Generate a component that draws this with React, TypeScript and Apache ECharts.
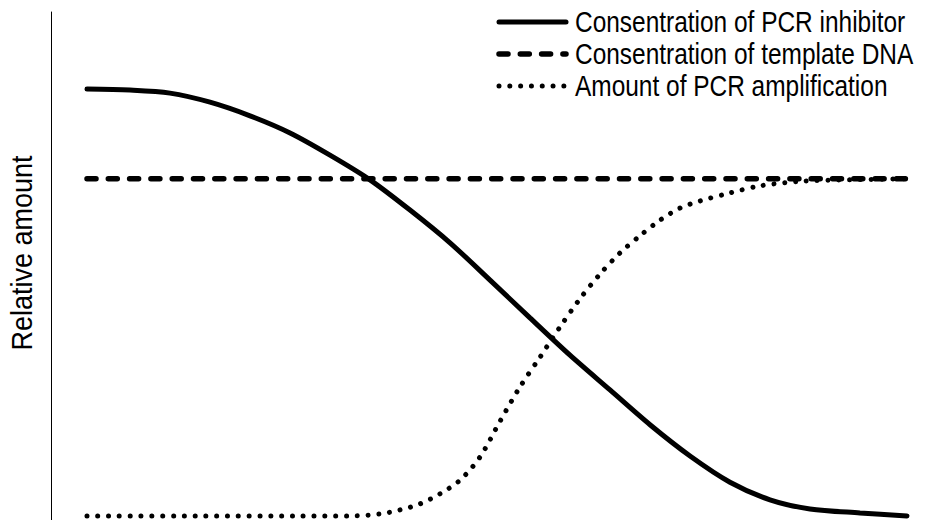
import React, { useEffect, useRef } from "react";
import * as echarts from "echarts";

const seriesNames = [
  "Consentration of PCR inhibitor",
  "Consentration of template DNA",
  "Amount of PCR amplification",
];

// [relative position, relative amount]
const inhibitor: [number, number][] = [
  [0, 84.7], [5.24, 84.5], [10.12, 83.9], [15, 82.1], [19.88, 79.4], [24.76, 76.0],
  [29.63, 71.6], [34.51, 66.7], [39.39, 60.7], [44.27, 54.2], [49.15, 46.8],
  [54.02, 39.3], [58.9, 31.9], [63.78, 25.0], [68.66, 18.1], [73.54, 11.9],
  [78.41, 6.7], [83.29, 3.2], [88.17, 1.4], [94.27, 0.6], [100, 0],
];
const templateDNA: [number, number][] = [
  [0, 66.9], [100, 66.9],
];
const amplification: [number, number][] = [
  [0, 0], [13.78, 0], [25.98, 0], [32.07, 0], [35.73, 0.4], [38.17, 1.2],
  [40.61, 2.4], [43.05, 4.4], [45.49, 7.1], [47.93, 11.7], [50.37, 18.8],
  [52.8, 25.6], [55.24, 31.5], [57.68, 37.5], [60.12, 43.1], [62.56, 48.0],
  [65, 52.2], [67.44, 55.6], [69.88, 58.7], [72.32, 61.1], [74.76, 62.5],
  [78.41, 64.1], [82.07, 65.5], [86.95, 66.4], [93.05, 66.7], [100, 66.9],
];

const yAxisName = "Relative amount";
const FONT = "'Liberation Sans', Arial, sans-serif";

const STYLES = [
  { width: 5, dash: null as number[] | null },
  { width: 5.5, dash: [9, 12.3] },
  { width: 5, dash: [0.01, 10.8] },
];

export default function App() {
  const ref = useRef<HTMLDivElement>(null);
  useEffect(() => {
    if (!ref.current) return;
    const chart = echarts.init(ref.current, undefined, { renderer: "svg" });
    const datasets = [inhibitor, templateDNA, amplification];
    const legendGraphics: any[] = [];
    seriesNames.forEach((name, i) => {
      const y = 22 + i * 32;
      const st = STYLES[i];
      legendGraphics.push({
        type: "line",
        shape: { x1: 499, y1: y, x2: 566, y2: y },
        style: {
          stroke: "#000",
          lineWidth: st.width,
          lineCap: "round",
          lineDash: st.dash || undefined,
        },
      });
      legendGraphics.push({
        type: "text",
        x: 575,
        y: y,
        scaleX: 0.815,
        style: {
          text: name,
          fontSize: 30,
          fontFamily: FONT,
          fill: "#000",
          verticalAlign: "middle",
          align: "left",
        },
      });
    });
    legendGraphics.push({
      type: "text",
      x: 21,
      y: 253,
      rotation: Math.PI / 2,
      scaleX: 0.9,
      style: {
        text: yAxisName,
        fontSize: 30,
        fontFamily: FONT,
        fill: "#000",
        align: "center",
        verticalAlign: "middle",
      },
    });
    chart.setOption({
      animation: false,
      backgroundColor: "#ffffff",
      textStyle: { fontFamily: FONT },
      grid: { left: 87, right: 25, top: 12, bottom: 0 },
      xAxis: {
        type: "value",
        min: 0,
        max: 100,
        show: false,
      },
      yAxis: {
        type: "value",
        min: -0.8,
        max: 100,
        offset: 36,
        axisLine: { show: true, onZero: false, lineStyle: { color: "#000", width: 1 } },
        axisTick: { show: false },
        axisLabel: { show: false },
        splitLine: { show: false },
      },
      graphic: legendGraphics,
      series: seriesNames.map((name, i) => ({
        name,
        type: "line",
        data: datasets[i],
        smooth: i === 1 ? false : 0.3,
        symbol: "none",
        lineStyle: {
          color: "#000",
          width: STYLES[i].width,
          type: STYLES[i].dash || "solid",
          cap: "round",
        },
      })),
    });
    return () => chart.dispose();
  }, []);
  return <div ref={ref} style={{ width: 932, height: 520, position: "absolute", left: 0, top: 0 }} />;
}
